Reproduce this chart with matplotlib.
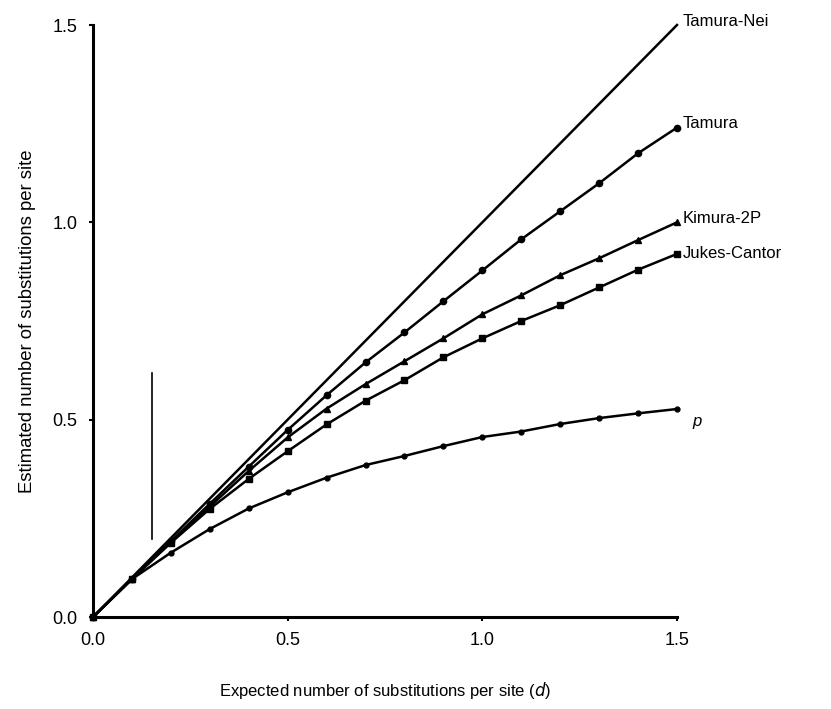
import matplotlib
matplotlib.use("Agg")
import matplotlib.pyplot as plt
import numpy as np

plt.rcParams['font.family'] = ['Liberation Sans', 'DejaVu Sans']

d = [0.0, 0.1, 0.2, 0.3, 0.4, 0.5, 0.6, 0.7, 0.8, 0.9, 1.0, 1.1, 1.2, 1.3, 1.4, 1.5]
tamura_nei = [0.0, 0.1, 0.2, 0.3, 0.4, 0.5, 0.6, 0.7, 0.8, 0.9, 1.0, 1.1, 1.2, 1.3, 1.4, 1.5]
tamura = [0.0, 0.097, 0.192, 0.287, 0.381, 0.474, 0.562, 0.645, 0.721, 0.800, 0.878, 0.957, 1.028, 1.099, 1.175, 1.240]
kimura = [0.0, 0.096, 0.190, 0.280, 0.370, 0.455, 0.528, 0.590, 0.648, 0.706, 0.767, 0.815, 0.866, 0.909, 0.955, 1.000]
jukes = [0.0, 0.096, 0.188, 0.274, 0.350, 0.420, 0.488, 0.548, 0.600, 0.658, 0.706, 0.750, 0.790, 0.835, 0.880, 0.920]
p_dist = [0.0, 0.096, 0.163, 0.223, 0.275, 0.316, 0.353, 0.385, 0.408, 0.433, 0.456, 0.470, 0.489, 0.504, 0.516, 0.527]

labels = ["Tamura-Nei", "Tamura", "Kimura-2P", "Jukes-Cantor", "p"]
label_y = [1.51, 1.25, 1.01, 0.92, 0.495]

fig = plt.figure(figsize=(8.31, 7.09), dpi=100)
ax = fig.add_axes([93/831, 1-617/709, (677-93)/831, (617-25)/709])

lw = 1.8
ax.plot(d, tamura_nei, color='black', lw=lw, clip_on=False)
ax.plot(d, tamura, color='black', lw=lw, marker='o', ms=4.5, clip_on=False)
ax.plot(d, kimura, color='black', lw=lw, marker='^', ms=5, clip_on=False)
ax.plot(d, jukes, color='black', lw=lw, marker='s', ms=4.5, clip_on=False)
ax.plot(d, p_dist, color='black', lw=lw, marker='o', ms=3.5, clip_on=False)

# stray vertical mark
ax.plot([0.152, 0.152], [0.197, 0.618], color='black', lw=1.2)

for lab, yy in zip(labels, label_y):
    style = 'italic' if lab == 'p' else 'normal'
    xx = 1.515 if lab != 'p' else 1.54
    ax.text(xx, yy, lab, fontsize=12, style=style, ha='left', va='center',
            clip_on=False)

ax.set_xlim(0, 1.5)
ax.set_ylim(0, 1.5)
ax.set_xticks([0.0, 0.5, 1.0, 1.5])
ax.set_yticks([0.0, 0.5, 1.0, 1.5])
ax.set_xticklabels(["0.0", "0.5", "1.0", "1.5"])
ax.set_yticklabels(["0.0", "0.5", "1.0", "1.5"])
ax.tick_params(axis='both', labelsize=13, width=1.5, length=3, direction='out', pad=8)

for s in ['top', 'right']:
    ax.spines[s].set_visible(False)
for s in ['left', 'bottom']:
    ax.spines[s].set_linewidth(2.2)

ax.set_xlabel("Expected number of substitutions per site ($d$)", fontsize=12, labelpad=22)
ax.set_ylabel("Estimated number of substitutions per site", fontsize=13.3, labelpad=12)

fig.savefig("out.png", dpi=100)
